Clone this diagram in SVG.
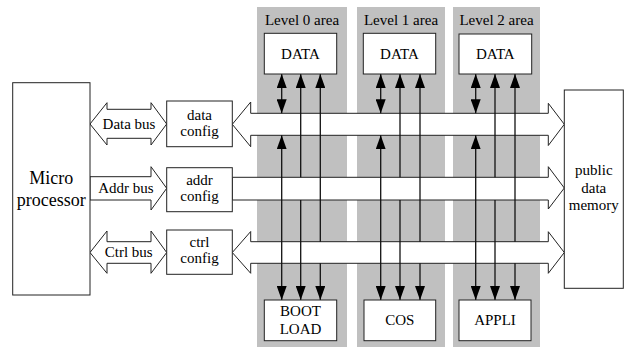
<svg xmlns="http://www.w3.org/2000/svg" width="625" height="347" viewBox="0 0 625 347">
<style>
text{font-family:'Liberation Serif','DejaVu Serif',serif;font-size:15px;fill:#000;text-anchor:middle}
.big{font-size:18px}
.box{fill:#fff;stroke:#222;stroke-width:1}
.area{fill:#c0c0c0;stroke:none}
.bus{fill:#fff;stroke:#222;stroke-width:1;stroke-linejoin:miter}
.ln{fill:none;stroke:#111;stroke-width:1.3}
</style>
<defs>
<marker id="ah" markerUnits="userSpaceOnUse" markerWidth="14" markerHeight="10" refX="14" refY="5" orient="auto-start-reverse" viewBox="0 0 14 10">
<path d="M0,0 L14,5 L0,10 z" fill="#000"/>
</marker>
</defs>

<g id="areas">
<rect class="area" x="257" y="7" width="90" height="340"/>
<rect class="area" x="357" y="7" width="88" height="340"/>
<rect class="area" x="453" y="7" width="87" height="340"/>
<text x="302" y="25" font-family="Liberation Serif, serif">Level 0 area</text>
<text x="401" y="25" font-family="Liberation Serif, serif">Level 1 area</text>
<text x="496.5" y="25" font-family="Liberation Serif, serif">Level 2 area</text>
</g>

<g id="buses">
<polygon class="bus" points="90,124 107,102.7 107,109.3 151,109.3 151,102.7 166.7,124 151,145 151,138.3 107,138.3 107,145"/>
<polygon class="bus" points="90,176.7 151,176.7 151,166.7 166.7,188.3 151,210 151,200 90,200"/>
<polygon class="bus" points="90,252.5 107,231 107,241.7 151,241.7 151,231 166.7,252.5 151,273.3 151,263.3 107,263.3 107,273.3"/>
<polygon class="bus" points="232.3,124.3 250.7,102 250.7,113.3 548.3,113.3 548.3,103.3 564.3,124.3 548.3,145.5 548.3,135.3 250.7,135.3 250.7,146.7"/>
<polygon class="bus" points="232.3,177.3 548.3,177.3 548.3,166.7 564.3,188 548.3,209 548.3,200 232.3,200"/>
<polygon class="bus" points="232.3,252.5 250.7,231.5 250.7,241.7 548.3,241.7 548.3,231.7 564.3,252.5 548.3,273.3 548.3,263.3 250.7,263.3 250.7,273.3"/>
<text x="129" y="129">Data bus</text>
<text x="126" y="192.5">Addr bus</text>
<text x="128.7" y="257">Ctrl bus</text>
</g>

<g id="connectors">
<path class="ln" d="M281.7,113.3 L281.7,74" marker-start="url(#ah)" marker-end="url(#ah)"/>
<path class="ln" d="M281.7,135.3 L281.7,300" marker-start="url(#ah)" marker-end="url(#ah)"/>
<path class="ln" d="M300.7,177.3 L300.7,74" marker-end="url(#ah)"/>
<path class="ln" d="M300.7,200 L300.7,300" marker-end="url(#ah)"/>
<path class="ln" d="M320.3,241.7 L320.3,74" marker-end="url(#ah)"/>
<path class="ln" d="M320.3,263.3 L320.3,300" marker-end="url(#ah)"/>

<path class="ln" d="M380.7,113.3 L380.7,74" marker-start="url(#ah)" marker-end="url(#ah)"/>
<path class="ln" d="M380.7,135.3 L380.7,300" marker-start="url(#ah)" marker-end="url(#ah)"/>
<path class="ln" d="M400,177.3 L400,74" marker-end="url(#ah)"/>
<path class="ln" d="M400,200 L400,300" marker-end="url(#ah)"/>
<path class="ln" d="M420,241.7 L420,74" marker-end="url(#ah)"/>
<path class="ln" d="M420,263.3 L420,300" marker-end="url(#ah)"/>

<path class="ln" d="M475.7,113.3 L475.7,74" marker-start="url(#ah)" marker-end="url(#ah)"/>
<path class="ln" d="M475.7,135.3 L475.7,300" marker-start="url(#ah)" marker-end="url(#ah)"/>
<path class="ln" d="M495,177.3 L495,74" marker-end="url(#ah)"/>
<path class="ln" d="M495,200 L495,300" marker-end="url(#ah)"/>
<path class="ln" d="M515,241.7 L515,74" marker-end="url(#ah)"/>
<path class="ln" d="M515,263.3 L515,300" marker-end="url(#ah)"/>
</g>

<g id="micro">
<rect class="box" x="12.7" y="82.7" width="77.3" height="212.3"/>
<text class="big" x="51.3" y="184">Micro</text>
<text class="big" x="51.3" y="206">processor</text>
</g>
<g id="dataconfig">
<rect class="box" x="166.7" y="101" width="65.6" height="45.7"/>
<text x="199.5" y="120">data</text>
<text x="199.5" y="135.5">config</text>
</g>
<g id="addrconfig">
<rect class="box" x="166.7" y="167.7" width="65.6" height="44"/>
<text x="199.5" y="185">addr</text>
<text x="199.5" y="200.5">config</text>
</g>
<g id="ctrlconfig">
<rect class="box" x="166.7" y="230" width="65.6" height="44.3"/>
<text x="199.5" y="246.5">ctrl</text>
<text x="199.5" y="262.5">config</text>
</g>
<g id="data0">
<rect class="box" x="264.3" y="33.3" width="72.4" height="40.7"/>
<text x="300.5" y="58.5">DATA</text>
</g>
<g id="data1">
<rect class="box" x="363.3" y="33.3" width="72.4" height="40.7"/>
<text x="399.5" y="58.5">DATA</text>
</g>
<g id="data2">
<rect class="box" x="459" y="34" width="72.7" height="40"/>
<text x="495.3" y="58.5">DATA</text>
</g>
<g id="bootload">
<rect class="box" x="264.3" y="300" width="72.4" height="40.7"/>
<text x="300.5" y="316">BOOT</text>
<text x="300.5" y="333.5">LOAD</text>
</g>
<g id="cos">
<rect class="box" x="364" y="300" width="71.7" height="40.7"/>
<text x="399.8" y="325">COS</text>
</g>
<g id="appli">
<rect class="box" x="459" y="300" width="72" height="40.7"/>
<text x="495" y="325">APPLI</text>
</g>
<g id="publicmem">
<rect class="box" x="564.3" y="90" width="59" height="198.3"/>
<text x="593.8" y="175">public</text>
<text x="593.8" y="193">data</text>
<text x="593.8" y="210">memory</text>
</g>
</svg>
